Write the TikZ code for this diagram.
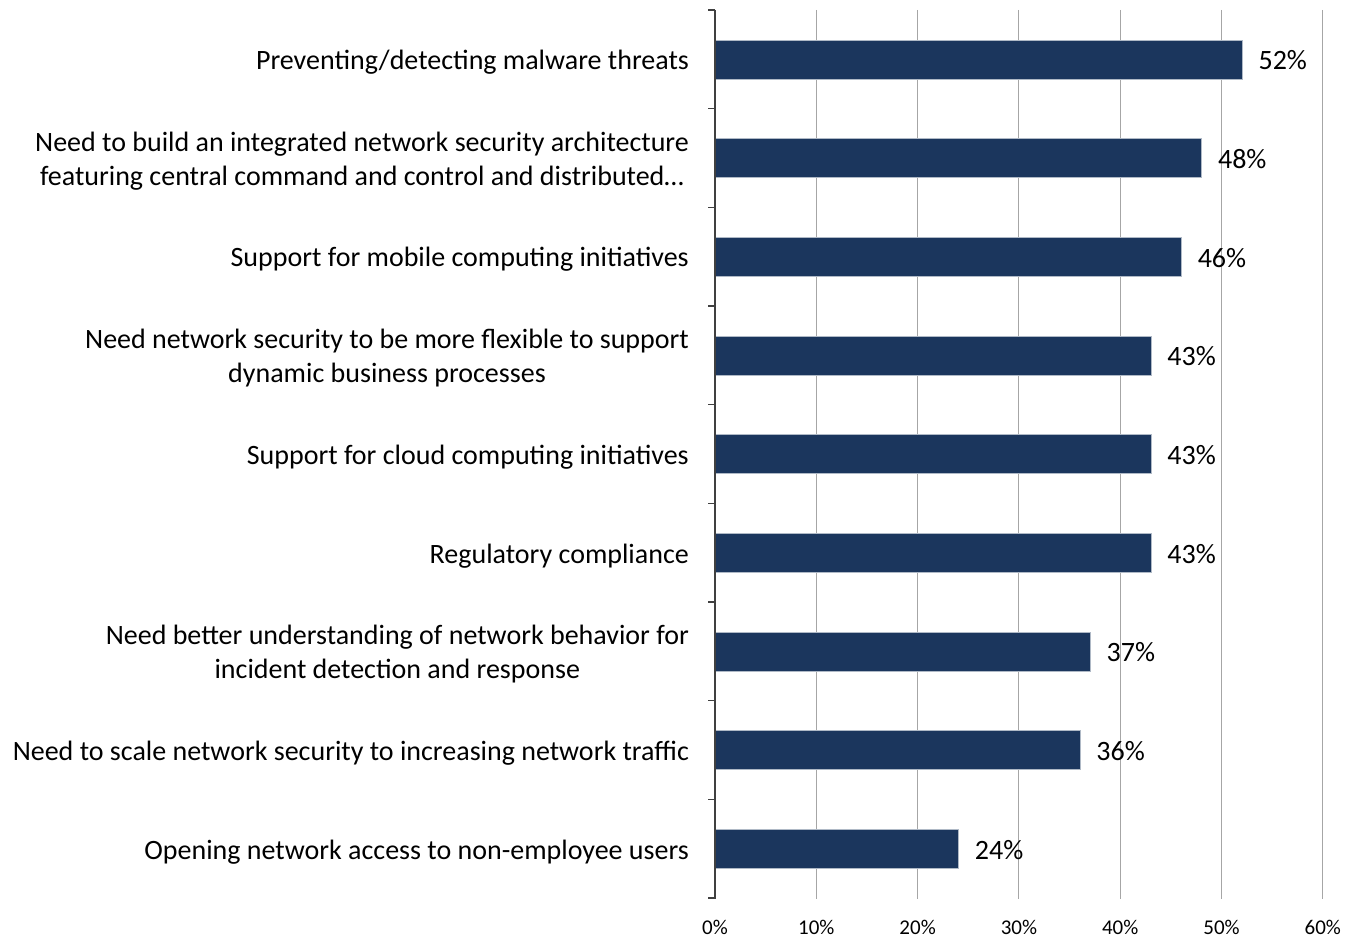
\documentclass[tikz,border=0pt]{standalone}
\usepackage{fontspec}
\setmainfont{Carlito}
\usetikzlibrary{positioning}

\definecolor{barblue}{RGB}{27,54,93}
\definecolor{gridgray}{RGB}{166,166,166}

\begin{document}
\begin{tikzpicture}[x=1pt,y=-1pt,
  bar/.style={draw=barblue!35!white,line width=0.6pt,fill=barblue,
    minimum height=39pt,inner sep=0pt,anchor=west},
  cat/.style={anchor=east,align=center,inner sep=0pt,yshift=-3pt,
    font=\fontsize{28}{34}\selectfont},
  val/.style={inner sep=0pt,font=\fontsize{28}{30}\selectfont},
  ticklabel/.style={inner sep=0pt,font=\fontsize{21}{24}\selectfont},
  axis/.style={black!75,line width=1.2pt}]
  \useasboundingbox (0,0) rectangle (1359,939);

  % vertical grid and percent scale
  \foreach \p [count=\t from 0] in {0,10,...,60} {
    \ifnum\t>0
      \draw[gridgray,line width=1pt] (715+\t*101.3,10) -- (715+\t*101.3,899);
    \fi
    \node[ticklabel] (s\t) at (715+\t*101.3,927) {\p\%};
  }

  % bars, category names and values
  \foreach \v/\txt [count=\i] in {
      52/{Preventing\slash detecting malware threats},
      48/{Need to build an integrated network security architecture\\featuring central command and control and distributed…},
      46/{Support for mobile computing initiatives},
      43/{Need network security to be more flexible to support\\dynamic business processes},
      43/{Support for cloud computing initiatives},
      43/{Regulatory compliance},
      37/{Need better understanding of network behavior for\\incident detection and response},
      36/{Need to scale network security to increasing network traffic},
      24/{Opening network access to non-employee users}} {
    \pgfmathsetmacro\yc{10+98.67*(\i-0.5)}
    \node[cat] (c\i) at (689,\yc) {\txt};
    \node[bar,minimum width=\v*10.13pt] (b\i) at (715,\yc) {};
    \node[val,right=16pt of b\i,yshift=-1pt] (v\i) {\v\%};
  }

  % category axis with its ticks
  \draw[axis] (715,10) -- (715,899);
  \foreach \k in {0,...,9}
    \draw[axis] (708,10+\k*98.67) -- (715,10+\k*98.67);
\end{tikzpicture}
\end{document}
